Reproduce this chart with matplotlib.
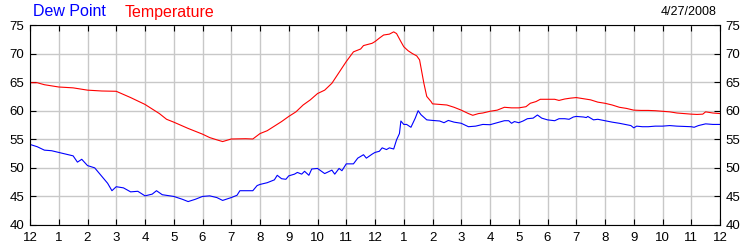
import matplotlib
matplotlib.use("Agg")
import matplotlib.pyplot as plt

# Hours since midnight, 4/27/2008
temp_hours = [0, 0.25, 0.5, 1.0, 1.5, 2.0, 2.5, 3.0, 3.5, 4.0, 4.5, 4.75, 5.0, 5.5, 6.0, 6.25,
              6.5, 6.7, 7.0, 7.5, 7.75, 8.0, 8.25, 8.5, 8.75, 9.0, 9.25, 9.5, 9.75, 10.0,
              10.25, 10.5, 10.75, 11.0, 11.25, 11.5, 11.6, 11.9, 12.0, 12.15, 12.3, 12.5,
              12.65, 12.75, 12.9, 13.0, 13.15, 13.3, 13.45, 13.55, 13.7, 13.8, 13.95, 14.0,
              14.5, 14.75, 15.0, 15.25, 15.4, 15.6, 15.75, 16.0, 16.25, 16.5, 16.75, 17.0,
              17.25, 17.4, 17.6, 17.75, 18.0, 18.25, 18.4, 18.6, 18.8, 19.0, 19.25, 19.5,
              19.75, 20.0, 20.25, 20.5, 20.75, 21.0, 21.25, 21.5, 21.75, 22.0, 22.25, 22.5,
              22.75, 23.0, 23.2, 23.4, 23.5, 23.75, 24.0]
temperature = [64.9, 64.9, 64.55, 64.15, 64.0, 63.6, 63.45, 63.4, 62.3, 61.1, 59.5, 58.5, 58.0,
               56.9, 55.9, 55.3, 54.9, 54.6, 55.05, 55.1, 55.05, 56.0, 56.5, 57.3, 58.1, 59.0,
               59.8, 61.0, 61.9, 63.0, 63.6, 64.8, 66.7, 68.6, 70.3, 70.8, 71.4, 71.8, 72.1,
               72.7, 73.25, 73.4, 73.8, 73.5, 72.1, 71.2, 70.5, 70.0, 69.6, 68.9, 64.8, 62.5,
               61.6, 61.2, 61.0, 60.6, 60.1, 59.5, 59.2, 59.5, 59.6, 59.9, 60.1, 60.6, 60.5,
               60.5, 60.7, 61.3, 61.6, 62.0, 62.0, 62.0, 61.8, 62.05, 62.2, 62.3, 62.1, 61.9,
               61.5, 61.3, 61.0, 60.6, 60.4, 60.1, 60.05, 60.05, 60.0, 59.9, 59.8, 59.6, 59.5,
               59.4, 59.35, 59.4, 59.8, 59.6, 59.5]

dew_hours = [0, 0.25, 0.5, 0.75, 1.0, 1.25, 1.5, 1.65, 1.8, 2.0, 2.25, 2.5, 2.7, 2.85, 3.0,
             3.25, 3.5, 3.75, 4.0, 4.25, 4.4, 4.6, 5.0, 5.3, 5.5, 5.75, 6.0, 6.25, 6.5, 6.7,
             7.0, 7.2, 7.3, 7.5, 7.75, 7.9, 8.0, 8.25, 8.5, 8.6, 8.75, 8.9, 9.0, 9.2, 9.3,
             9.45, 9.55, 9.7, 9.8, 10.0, 10.25, 10.5, 10.6, 10.75, 10.85, 11.0, 11.25, 11.4,
             11.6, 11.7, 11.9, 12.0, 12.15, 12.25, 12.4, 12.5, 12.65, 12.75, 12.85, 12.9,
             13.0, 13.1, 13.25, 13.4, 13.5, 13.6, 13.8, 14.0, 14.25, 14.4, 14.55, 14.75,
             15.0, 15.25, 15.5, 15.75, 16.0, 16.25, 16.5, 16.65, 16.75, 16.85, 17.0, 17.15,
             17.3, 17.5, 17.65, 17.8, 18.0, 18.25, 18.4, 18.6, 18.75, 18.9, 19.0, 19.25,
             19.35, 19.4, 19.6, 19.75, 20.0, 20.25, 20.5, 20.75, 20.9, 21.0, 21.1, 21.3,
             21.5, 21.75, 22.0, 22.25, 22.5, 22.75, 23.0, 23.1, 23.25, 23.5, 23.75, 24.0]
dew_point = [54.1, 53.7, 53.1, 53.0, 52.7, 52.4, 52.1, 51.0, 51.5, 50.4, 50.0, 48.5, 47.3,
             46.0, 46.7, 46.5, 45.8, 45.9, 45.1, 45.4, 46.0, 45.3, 45.0, 44.5, 44.1, 44.5,
             45.0, 45.1, 44.8, 44.3, 44.8, 45.2, 46.0, 46.0, 46.0, 46.9, 47.1, 47.4, 47.9,
             48.7, 48.1, 48.0, 48.6, 48.9, 49.2, 48.9, 49.4, 48.7, 49.8, 49.9, 49.0, 49.6,
             48.9, 49.9, 49.5, 50.7, 50.7, 51.7, 52.3, 51.7, 52.4, 52.7, 52.9, 53.5, 53.2,
             53.5, 53.3, 54.9, 56.0, 58.2, 57.6, 57.6, 57.1, 58.7, 60.0, 59.3, 58.4, 58.3,
             58.2, 57.9, 58.3, 58.0, 57.8, 57.2, 57.3, 57.6, 57.55, 57.9, 58.25, 58.25, 57.8,
             58.1, 57.9, 58.2, 58.6, 58.7, 59.25, 58.7, 58.4, 58.25, 58.6, 58.6, 58.5, 58.9,
             59.0, 58.9, 58.8, 59.0, 58.4, 58.5, 58.25, 58.0, 57.8, 57.55, 57.4, 57.0, 57.3,
             57.2, 57.2, 57.3, 57.3, 57.4, 57.3, 57.25, 57.2, 57.1, 57.4, 57.7, 57.6, 57.6]

hour_ticks = list(range(0, 25))
hour_labels = ["12", "1", "2", "3", "4", "5", "6", "7", "8", "9", "10", "11",
               "12", "1", "2", "3", "4", "5", "6", "7", "8", "9", "10", "11", "12"]
y_ticks = [40, 45, 50, 55, 60, 65, 70, 75]
date_label = "4/27/2008"

plt.rcParams['font.family'] = ['Liberation Sans', 'DejaVu Sans']

fig = plt.figure(figsize=(7.5, 2.5), dpi=100)
ax = fig.add_axes([30 / 750, 25 / 250, 690 / 750, 200 / 250])

ax.plot(dew_hours, dew_point, color='#0000ff', lw=0.8)
ax.plot(temp_hours, temperature, color='#ff0000', lw=0.8)

ax.set_xlim(0, 24)
ax.set_ylim(40, 75)
ax.set_xticks(hour_ticks)
ax.set_xticklabels(hour_labels)
ax.set_yticks(y_ticks)
ax.set_yticklabels([str(v) for v in y_ticks])
ax.grid(True, color='#c8c8c8', lw=1.0)
ax.set_axisbelow(True)
ax.tick_params(direction='in', length=4, width=0.8, color='black',
               top=True, right=True, labelright=True, labelsize=9.5, pad=4)
ax.tick_params(axis='x', pad=5)
for s in ax.spines.values():
    s.set_color('black')
    s.set_linewidth(0.8)

fig.text(33 / 750, 1 - 12 / 250, "Dew Point", color='#0000ff', fontsize=11.5,
         ha='left', va='center')
fig.text(125 / 750, 1 - 12 / 250, "Temperature", color='#ff0000', fontsize=11.5,
         ha='left', va='center')
fig.text(717 / 750, 1 - 12 / 250, date_label, color='#000000', fontsize=9,
         ha='right', va='center')

fig.savefig("out.png", dpi=100)
